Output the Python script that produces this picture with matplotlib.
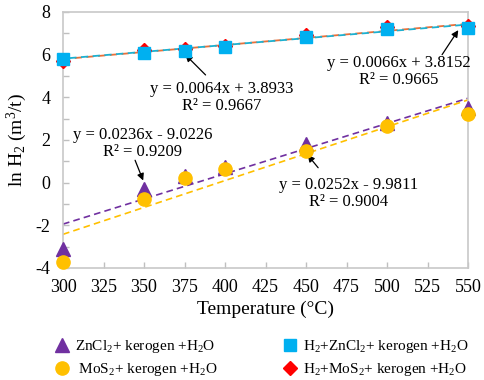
import numpy as np
import matplotlib
matplotlib.use("Agg")
import matplotlib.pyplot as plt
from matplotlib.lines import Line2D

plt.rcParams['font.family'] = ['Liberation Serif', 'DejaVu Serif']
plt.rcParams['mathtext.fontset'] = 'custom'
plt.rcParams['mathtext.rm'] = 'Liberation Serif'
plt.rcParams['mathtext.it'] = 'Liberation Serif:italic'
plt.rcParams['axes.unicode_minus'] = False

# ---- data ----
temperature = [300, 350, 375, 400, 450, 500, 550]
zncl2 = [-3.1, -0.3, 0.3, 0.75, 1.8, 2.8, 3.5]
mos2 = [-3.7, -0.75, 0.2, 0.65, 1.5, 2.65, 3.2]
h2_zncl2 = [5.8, 6.1, 6.15, 6.35, 6.85, 7.2, 7.25]
h2_mos2 = [5.7, 6.2, 6.25, 6.4, 6.9, 7.3, 7.35]

fit_slopes = {'zncl2': 0.0236, 'mos2': 0.0252, 'h2_zncl2': 0.0064, 'h2_mos2': 0.0066}
fit_intercepts = {'zncl2': -9.0226, 'mos2': -9.9811, 'h2_zncl2': 3.8933, 'h2_mos2': 3.8152}
fit_r2 = {'zncl2': 0.9209, 'mos2': 0.9004, 'h2_zncl2': 0.9667, 'h2_mos2': 0.9665}

labels = ['ZnCl$_2$+ kerogen +H$_2$O', ' MoS$_2$+ kerogen +H$_2$O',
          'H$_2$+ZnCl$_2$+ kerogen +H$_2$O', 'H$_2$+MoS$_2$+ kerogen +H$_2$O']

x_ticks = [300, 325, 350, 375, 400, 425, 450, 475, 500, 525, 550]
y_ticks = [-4, -2, 0, 2, 4, 6, 8]

# ---- figure ----
fig = plt.figure(figsize=(4.84, 3.80), dpi=100)
ax = fig.add_axes([63/484, 1-268/380, (468-63)/484, (268-12)/380])

xf = np.array([300, 550])
c_purple = '#7030A0'
c_yellow = '#FFC000'
c_blue = '#00B0F0'
c_red = '#FF0000'

ax.plot(xf, fit_slopes['zncl2']*xf + fit_intercepts['zncl2'], ls=(0, (4, 2.5)), color=c_purple, lw=1.2, zorder=2)
ax.plot(xf, fit_slopes['mos2']*xf + fit_intercepts['mos2'], ls=(0, (4, 2.5)), color=c_yellow, lw=1.2, zorder=2)
ax.plot(xf, fit_slopes['h2_mos2']*xf + fit_intercepts['h2_mos2'], ls=(0, (4, 2.5)), color='#E8703A', lw=1.3, zorder=2)
ax.plot(xf, fit_slopes['h2_zncl2']*xf + fit_intercepts['h2_zncl2'], ls=(3, (4, 2.5)), color='#1CB0D0', lw=1.3, zorder=2)

ax.plot(temperature, zncl2, ls='none', marker='^', ms=9.5, color=c_purple, zorder=3, clip_on=False)
ax.plot(temperature, mos2, ls='none', marker='o', ms=9.5, color=c_yellow, zorder=4, clip_on=False)
ax.plot(temperature, h2_mos2, ls='none', marker='D', ms=7, color=c_red, zorder=3, clip_on=False)
ax.plot(temperature, h2_zncl2, ls='none', marker='s', ms=8.5, color=c_blue, zorder=4, clip_on=False)

ax.set_xlim(300, 550)
ax.set_ylim(-4, 8)
ax.set_xticks(x_ticks)
ax.set_yticks(y_ticks)
ax.set_yticks(np.arange(-4, 9, 1), minor=True)
ax.tick_params(axis='both', which='both', direction='in', color='#BFBFBF', length=4, width=1,
               labelsize=13, labelcolor='black')
ax.tick_params(axis='x', pad=8)
ax.tick_params(axis='y', pad=9)
ax.tick_params(axis='y', which='minor', length=4)
for s in ax.spines.values():
    s.set_color('#C8C8C8')
    s.set_linewidth(1.2)

ax.set_xlabel('Temperature (°C)', fontsize=14, labelpad=3)
ax.set_ylabel('ln H$_2$ (m$^3$/t)', fontsize=14, labelpad=5)


def eq_text(key):
    b = fit_intercepts[key]
    sign = '+' if b >= 0 else '-'
    return f"y = {fit_slopes[key]:.4f}x {sign} {abs(b):.4f}\nR² = {fit_r2[key]:.4f}"


txt_kw = dict(ha='center', va='center', fontsize=12, linespacing=1.1, zorder=5)
arr = dict(arrowstyle='-|>', color='black', lw=0.9, mutation_scale=10, shrinkA=0, shrinkB=0)

ax.text(398, 4.0, eq_text('h2_zncl2'), **txt_kw)
ax.annotate('', xy=(375.5, 6.0), xytext=(388, 5.05), arrowprops=arr)

ax.text(507, 5.2, eq_text('h2_mos2'), **txt_kw)
ax.annotate('', xy=(544, 7.15), xytext=(534, 6.0), arrowprops=arr)

ax.text(349, 1.85, eq_text('zncl2'), **txt_kw)
ax.annotate('', xy=(349.5, 0.1), xytext=(344.5, 1.05), arrowprops=arr)

ax.text(476, -0.5, eq_text('mos2'), **txt_kw)
ax.annotate('', xy=(451, 1.3), xytext=(457.5, 0.7), arrowprops=arr)

handles = [Line2D([], [], ls='none', marker='^', ms=9.5, color=c_purple),
           Line2D([], [], ls='none', marker='o', ms=9.5, color=c_yellow),
           Line2D([], [], ls='none', marker='s', ms=8, color=c_blue),
           Line2D([], [], ls='none', marker='D', ms=7.5, color=c_red)]

leg_kw = dict(frameon=False, fontsize=11, handlelength=1.1, handletextpad=0.3,
              labelspacing=0.4, borderaxespad=0, borderpad=0, loc='upper left')
fig.legend(handles[:2], labels[:2], bbox_to_anchor=(54/484, 1-338/380), **leg_kw)
fig.legend(handles[2:], labels[2:], bbox_to_anchor=(282/484, 1-338/380), **leg_kw)

fig.savefig('out.png', dpi=100)
